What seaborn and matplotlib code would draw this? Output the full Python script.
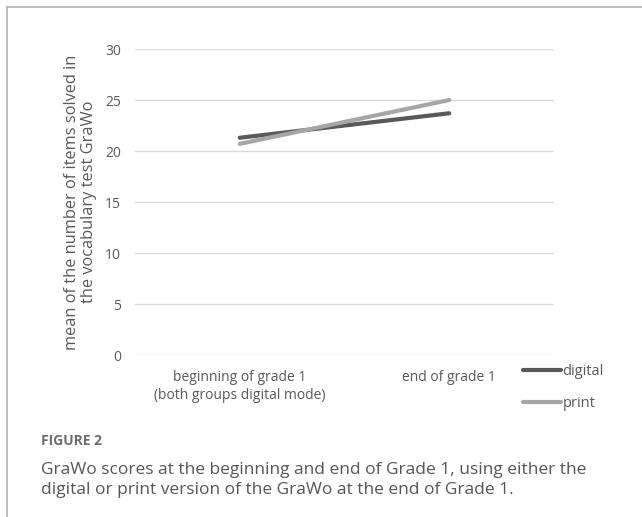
import pandas as pd
import matplotlib.pyplot as plt
import seaborn as sns
from matplotlib.lines import Line2D

# Data
time_points = ["beginning of grade 1\n(both groups digital mode)", "end of grade 1"]
digital_scores = [21.3, 23.7]
print_scores = [20.7, 25.0]
groups = ["digital", "print"]
y_ticks = [0, 5, 10, 15, 20, 25, 30]

df = pd.DataFrame({
    "time": time_points * 2,
    "score": digital_scores + print_scores,
    "group": [groups[0]] * 2 + [groups[1]] * 2,
})

sns.set_style("white")
plt.rcParams["font.family"] = ["Open Sans", "DejaVu Sans"]

txt = "#595959"
colors = {"digital": "#595959", "print": "#a6a6a6"}

fig = plt.figure(figsize=(6.42, 5.17), dpi=100)
ax = fig.add_axes([0.2103, 0.3133, 0.6526, 0.5919])

sns.lineplot(data=df, x="time", y="score", hue="group", palette=colors,
             linewidth=3, legend=False, ax=ax, sort=False)

ax.set_xlim(-0.5, 1.5)
ax.set_ylim(0, 30)
ax.set_yticks(y_ticks)
ax.yaxis.grid(True, color="#d9d9d9", linewidth=1)
ax.set_axisbelow(True)
for s in ax.spines.values():
    s.set_visible(False)
ax.tick_params(axis="y", length=0, pad=10, labelsize=10, labelcolor=txt)
ax.tick_params(axis="x", length=0, pad=11, labelsize=10, labelcolor=txt)
ax.set_xlabel("")
ax.set_ylabel("mean of the number of items solved in\nthe vocabulary test GraWo",
              fontsize=11.8, color=txt, labelpad=6, linespacing=1.1)

handles = [Line2D([], [], color=colors[g], linewidth=3) for g in groups]
ax.legend(handles, groups, loc="upper left", bbox_to_anchor=(0.912, -0.009),
          frameon=False, fontsize=10.5, labelcolor=txt, handlelength=2.6,
          handletextpad=0.1, labelspacing=1.2, borderaxespad=0)

# frame and caption
fig.add_artist(Line2D([0.011, 1.0], [0.986, 0.986], color="#b0b0b0", linewidth=1.2))
fig.add_artist(Line2D([0.011, 0.011], [0.0, 0.986], color="#b0b0b0", linewidth=1.2))
fig.text(0.064, 0.147, "FIGURE 2", fontsize=10, color="#6e6e6e", fontweight="bold", va="center")
fig.text(0.064, 0.0716, "GraWo scores at the beginning and end of Grade 1, using either the\n"
         "digital or print version of the GraWo at the end of Grade 1.",
         fontsize=12.5, color="#555555", va="center", linespacing=1.4)

plt.savefig("out.png", dpi=100)
